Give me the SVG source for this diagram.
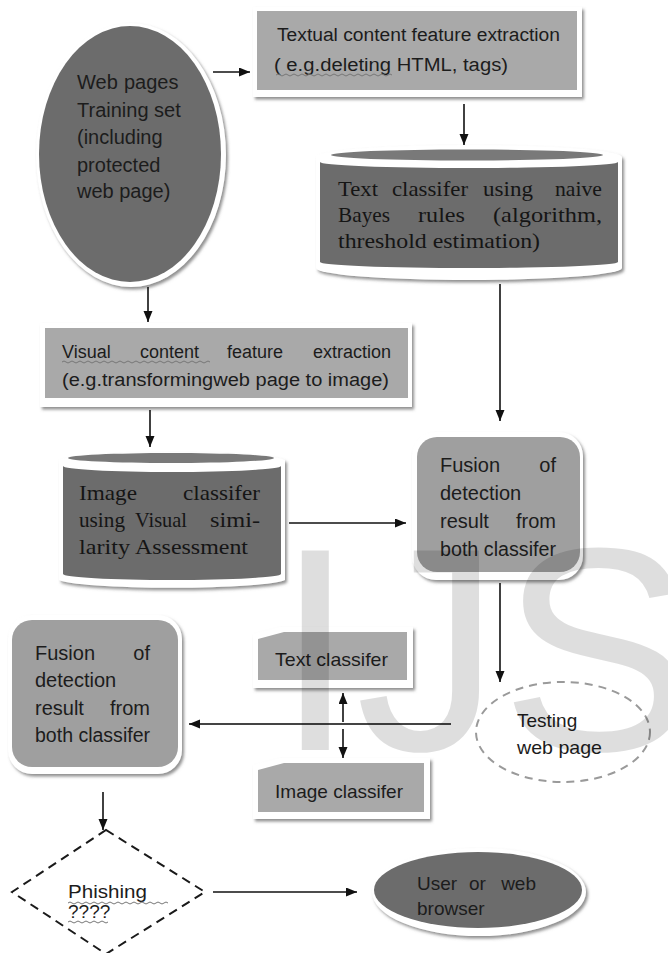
<svg xmlns="http://www.w3.org/2000/svg" width="668" height="953" viewBox="0 0 668 953">
<defs>
<filter id="sh" x="-10%" y="-10%" width="130%" height="130%">
<feDropShadow dx="2" dy="2.5" stdDeviation="1.5" flood-color="#6a6a6a" flood-opacity="0.75"/>
</filter>
<marker id="ah" markerWidth="12" markerHeight="10" refX="11" refY="4.5" orient="auto" markerUnits="userSpaceOnUse">
<path d="M0,0 L11,4.5 L0,9 Z" fill="#111"/>
</marker>
<style>
.sans{font-family:"Liberation Sans",Arial,sans-serif;fill:#1c1c1c}
.serif{font-family:"Liberation Serif","Times New Roman",serif;fill:#151515;font-size:21px}
.rim{fill:#fff;filter:url(#sh)}
.light{fill:#a9a9a9}
.mid{fill:#9f9f9f}
.dark{fill:#6c6c6c}
.ln{stroke:#111;stroke-width:1.6;fill:none}
.sq{stroke:#777;stroke-width:1;fill:none}
</style>
</defs>
<rect width="668" height="953" fill="#fff"/>

<g id="web-pages">
<ellipse class="rim" cx="131" cy="155" rx="95" ry="132"/>
<ellipse class="dark" cx="130" cy="154" rx="91" ry="128"/>
<text class="sans" font-size="20" x="77" y="89">Web</text>
<text class="sans" font-size="20" x="124" y="89">pages</text>
<text class="sans" font-size="20" x="77" y="117">Training set</text>
<text class="sans" font-size="20" x="77" y="144">(including</text>
<text class="sans" font-size="20" x="77" y="172">protected</text>
<text class="sans" font-size="20" x="77" y="198">web page)</text>
</g>

<g id="textual">
<rect class="rim" x="253" y="7" width="329" height="90"/>
<rect class="light" x="257" y="11" width="320" height="79"/>
<text class="sans" font-size="18" x="277" y="41" textLength="283" lengthAdjust="spacingAndGlyphs">Textual content feature extraction</text>
<text class="sans" font-size="18" x="274" y="71" textLength="234" lengthAdjust="spacingAndGlyphs">( e.g.deleting HTML, tags)</text>
<path class="sq" d="M276,75 q2,-2 4,0 t4,0 t4,0 t4,0 t4,0 t4,0 t4,0 t4,0 t4,0 t4,0 t4,0 t4,0 t4,0 t4,0 t4,0 t4,0 t4,0 t4,0 t4,0 t4,0 t4,0 t4,0 t4,0 t4,0 t4,0 t4,0 t4,0 t4,0 t4,0"/>
</g>

<g id="text-classifier-cyl">
<path class="rim" d="M316,157 A153,12 0 0 1 622,157 L622,268 A153,12 0 0 1 316,268 Z"/>
<path class="dark" d="M320,162 A149,6 0 0 0 618,162 L618,262 A149,6 0 0 1 320,262 Z"/>
<ellipse cx="467" cy="155" rx="136" ry="5.5" fill="#797979"/>
<text class="serif" x="338" y="196" textLength="40" lengthAdjust="spacingAndGlyphs">Text</text>
<text class="serif" x="392" y="196" textLength="76" lengthAdjust="spacingAndGlyphs">classifer</text>
<text class="serif" x="483" y="196" textLength="50" lengthAdjust="spacingAndGlyphs">using</text>
<text class="serif" x="555" y="196" textLength="47" lengthAdjust="spacingAndGlyphs">naive</text>
<text class="serif" x="338" y="222" textLength="52" lengthAdjust="spacingAndGlyphs">Bayes</text>
<text class="serif" x="418" y="222" textLength="47" lengthAdjust="spacingAndGlyphs">rules</text>
<text class="serif" x="493" y="222" textLength="109" lengthAdjust="spacingAndGlyphs">(algorithm,</text>
<text class="serif" x="338" y="248" textLength="202" lengthAdjust="spacingAndGlyphs">threshold estimation)</text>
</g>

<g id="visual">
<rect class="rim" x="40" y="323" width="372" height="84"/>
<rect class="light" x="45" y="328" width="363" height="70"/>
<text class="sans" font-size="18" x="62" y="358">Visual</text>
<text class="sans" font-size="18" x="140" y="358">content</text>
<text class="sans" font-size="18" x="227" y="358">feature</text>
<text class="sans" font-size="18" x="391" y="358" text-anchor="end">extraction</text>
<text class="sans" font-size="18" x="62" y="386" textLength="327" lengthAdjust="spacingAndGlyphs">(e.g.transformingweb page to image)</text>
<path class="sq" d="M62,362 q2,-2 4,0 t4,0 t4,0 t4,0 t4,0 t4,0 t4,0 t4,0 t4,0 t4,0 t4,0 t4,0 t4,0 t4,0 t4,0 t4,0 t4,0 t4,0 t4,0 t4,0 t4,0 t4,0 t4,0 t4,0 t4,0 t4,0 t4,0 t4,0 t4,0 t4,0 t4,0 t4,0 t4,0 t4,0 t4,0 t4,0 t4,0"/>
</g>

<g id="image-classifier-cyl">
<path class="rim" d="M59,460 A114,9 0 0 1 285,460 L285,580 A114,9 0 0 1 59,580 Z"/>
<path class="dark" d="M63,466 A109,6 0 0 0 281,466 L281,574 A109,6 0 0 1 63,574 Z"/>
<ellipse cx="171" cy="458" rx="103" ry="5" fill="#797979"/>
<text class="serif" x="79" y="500" textLength="58" lengthAdjust="spacingAndGlyphs">Image</text>
<text class="serif" x="183" y="500" textLength="77" lengthAdjust="spacingAndGlyphs">classifer</text>
<text class="serif" x="79" y="527" textLength="46" lengthAdjust="spacingAndGlyphs">using</text>
<text class="serif" x="135" y="527" textLength="52" lengthAdjust="spacingAndGlyphs">Visual</text>
<text class="serif" x="210" y="527" textLength="50" lengthAdjust="spacingAndGlyphs">simi-</text>
<text class="serif" x="79" y="554" textLength="51" lengthAdjust="spacingAndGlyphs">larity</text>
<text class="serif" x="135" y="554" textLength="113" lengthAdjust="spacingAndGlyphs">Assessment</text>
</g>

<g id="fusion-right">
<rect class="rim" x="412" y="432" width="171" height="148" rx="24"/>
<rect class="mid" x="417" y="437" width="163" height="135" rx="20"/>
<text class="sans" font-size="20" x="440" y="472">Fusion</text>
<text class="sans" font-size="20" x="556" y="472" text-anchor="end">of</text>
<text class="sans" font-size="20" x="440" y="500">detection</text>
<text class="sans" font-size="20" x="440" y="528">result</text>
<text class="sans" font-size="20" x="556" y="528" text-anchor="end">from</text>
<text class="sans" font-size="20" x="440" y="556" textLength="116" lengthAdjust="spacingAndGlyphs">both classifer</text>
</g>

<g id="fusion-left">
<rect class="rim" x="8" y="615" width="174" height="159" rx="24"/>
<rect class="mid" x="12" y="620" width="166" height="147" rx="20"/>
<text class="sans" font-size="20" x="35" y="660">Fusion</text>
<text class="sans" font-size="20" x="150" y="660" text-anchor="end">of</text>
<text class="sans" font-size="20" x="35" y="687">detection</text>
<text class="sans" font-size="20" x="35" y="715">result</text>
<text class="sans" font-size="20" x="150" y="715" text-anchor="end">from</text>
<text class="sans" font-size="20" x="35" y="742" textLength="115" lengthAdjust="spacingAndGlyphs">both classifer</text>
</g>

<g id="text-classifier">
<path class="rim" d="M253,634 L280,627 L413,627 L413,688 L253,688 Z"/>
<path class="light" d="M258,639 L284,632 L407,632 L407,680 L258,680 Z"/>
<text class="sans" font-size="19" x="275" y="666" textLength="113" lengthAdjust="spacingAndGlyphs">Text classifer</text>
</g>

<g id="image-classifier">
<path class="rim" d="M253,765 L280,758 L430,758 L430,819 L253,819 Z"/>
<path class="light" d="M258,770 L284,763 L424,763 L424,812 L258,812 Z"/>
<text class="sans" font-size="19" x="275" y="798" textLength="128" lengthAdjust="spacingAndGlyphs">Image classifer</text>
</g>

<g id="testing">
<ellipse cx="563" cy="732" rx="87" ry="50" fill="none" stroke="#9a9a9a" stroke-width="2" stroke-dasharray="8 6"/>
<text class="sans" font-size="19" x="517" y="727">Testing</text>
<text class="sans" font-size="19" x="517" y="754" textLength="85" lengthAdjust="spacingAndGlyphs">web page</text>
</g>

<g id="phishing">
<path d="M106,830 L205,892 L106,954 L12,892 Z" fill="none" stroke="#1a1a1a" stroke-width="2" stroke-dasharray="9 6"/>
<text class="sans" font-size="19" x="68" y="898" fill="#333" textLength="79" lengthAdjust="spacingAndGlyphs">Phishing</text>
<text class="sans" font-size="19" x="68" y="918" fill="#333">????</text>
<path class="sq" d="M68,903 q2,-2 4,0 t4,0 t4,0 t4,0 t4,0 t4,0 t4,0 t4,0 t4,0 t4,0 t4,0 t4,0 t4,0 t4,0 t4,0 t4,0 t4,0 t4,0 t4,0 t4,0 t4,0 t4,0 t4,0 t4,0 t4,0"/>
<path class="sq" d="M68,922 q2,-2 4,0 t4,0 t4,0 t4,0 t4,0 t4,0 t4,0 t4,0 t4,0 t4,0"/>
</g>

<g id="user">
<ellipse class="rim" cx="479" cy="892" rx="107" ry="44"/>
<ellipse class="dark" cx="478" cy="890" rx="104" ry="38"/>
<text class="sans" font-size="19" x="417" y="890">User</text>
<text class="sans" font-size="19" x="469" y="890">or</text>
<text class="sans" font-size="19" x="536" y="890" text-anchor="end">web</text>
<text class="sans" font-size="19" x="417" y="915">browser</text>
</g>

<g id="connectors">
<line class="ln" x1="213" y1="72" x2="250" y2="72" marker-end="url(#ah)"/>
<line class="ln" x1="464" y1="104" x2="464" y2="145" marker-end="url(#ah)"/>
<line class="ln" x1="500" y1="284" x2="500" y2="421" marker-end="url(#ah)"/>
<line class="ln" x1="148" y1="287" x2="148" y2="322" marker-end="url(#ah)"/>
<line class="ln" x1="150" y1="410" x2="150" y2="447" marker-end="url(#ah)"/>
<line class="ln" x1="289" y1="523" x2="406" y2="523" marker-end="url(#ah)"/>
<line class="ln" x1="500" y1="583" x2="500" y2="682" marker-end="url(#ah)"/>
<line x1="451" y1="724" x2="189" y2="724" stroke="#444" stroke-width="2" marker-end="url(#ah)"/>
<line class="ln" x1="343" y1="722" x2="343" y2="693" marker-end="url(#ah)"/>
<line class="ln" x1="343" y1="729" x2="343" y2="758" marker-end="url(#ah)"/>
<line class="ln" x1="103" y1="792" x2="103" y2="830" marker-end="url(#ah)"/>
<line class="ln" x1="213" y1="892" x2="357" y2="892" marker-end="url(#ah)"/>
</g>

<text x="275" y="750" font-family="Liberation Sans, Arial, sans-serif" font-size="290" fill="#000" fill-opacity="0.13">IJS</text>
</svg>
